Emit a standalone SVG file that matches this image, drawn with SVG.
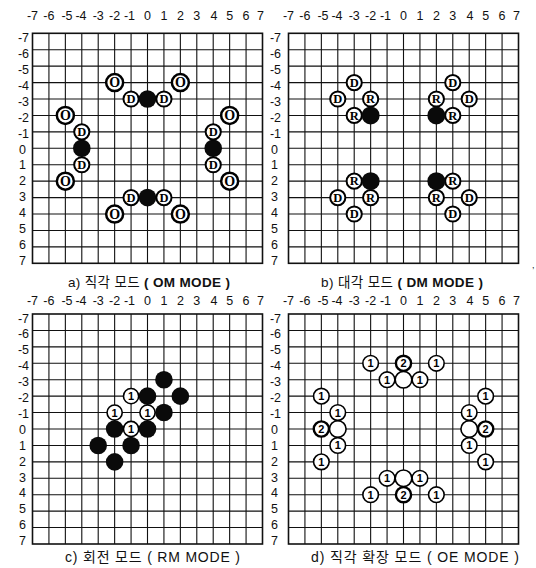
<svg xmlns="http://www.w3.org/2000/svg" xmlns:xlink="http://www.w3.org/1999/xlink" width="536" height="568" viewBox="0 0 536 568">
<style>
.bg{fill:#fff}
.gl{fill:none;stroke:#111;stroke-width:1.1}
.gb{fill:none;stroke:#111;stroke-width:1.6}
.lbl{font-family:"Liberation Sans",Arial,sans-serif;font-size:12.5px;fill:#111}
.cl{text-anchor:middle}
.rl{text-anchor:end}
.cap{font-family:"Liberation Sans","Noto Sans CJK KR",sans-serif;font-size:13.5px;fill:#111;text-anchor:middle}
.cap2{font-size:14px}
.b{font-weight:bold}
.bk{fill:#0a0a0a}
.w{fill:#fff;stroke:#000}
.so{stroke-width:2.5}
.sd{stroke-width:2}
.sn{stroke-width:1.6}
.s2{stroke-width:2.4}
.L{font-family:"Liberation Serif","Times New Roman",serif;font-weight:bold;font-size:12.5px;text-anchor:middle;fill:#000}
.LO{font-size:14px}
.N{font-family:"Liberation Sans",Arial,sans-serif;font-weight:bold;font-size:11px;text-anchor:middle;fill:#000}
</style>
<defs>
<g id="grid">
<rect class="bg" x="0" y="0" width="230" height="230"/>
<path class="gl" d="M16.43 0V230M32.86 0V230M49.29 0V230M65.71 0V230M82.14 0V230M98.57 0V230M115 0V230M131.43 0V230M147.86 0V230M164.29 0V230M180.71 0V230M197.14 0V230M213.57 0V230M0 16.43H230M0 32.86H230M0 49.29H230M0 65.71H230M0 82.14H230M0 98.57H230M0 115H230M0 131.43H230M0 147.86H230M0 164.29H230M0 180.71H230M0 197.14H230M0 213.57H230"/>
<rect class="gb" x="0" y="0" width="230" height="230"/>
</g>
<g id="collabels" class="lbl cl">
<text x="0">-7</text><text x="16.43">-6</text><text x="34.5">-5</text><text x="48.5">-4</text><text x="65.71">-3</text><text x="82.14">-2</text><text x="97">-1</text><text x="115">0</text><text x="131.43">1</text><text x="147.86">2</text><text x="164.29">3</text><text x="181.5">4</text><text x="197.14">5</text><text x="213.57">6</text><text x="228">7</text>
</g>
<g id="rowlabels" class="lbl rl">
<text y="0">-7</text><text y="15.9">-6</text><text y="31.8">-5</text><text y="47.7">-4</text><text y="63.6">-3</text><text y="79.5">-2</text><text y="95.4">-1</text><text y="111.3" x="-3">0</text><text y="127.2" x="-3">1</text><text y="143.1" x="-3">2</text><text y="159" x="-3">3</text><text y="174.9" x="-3">4</text><text y="190.8" x="-3">5</text><text y="206.7" x="-3">6</text><text y="222.6" x="-3">7</text>
</g>
</defs>

<g id="panel-a">
<use xlink:href="#grid" x="32.5" y="33.3"/>
<use xlink:href="#collabels" x="32.5" y="19.5"/>
<use xlink:href="#rowlabels" x="29" y="42.3"/>
<g id="a-stones" transform="translate(147.5 148.3)">
<circle class="bk" cx="0" cy="-49.29" r="8.8"/>
<circle class="bk" cx="-65.72" cy="0" r="8.8"/>
<circle class="bk" cx="65.72" cy="0" r="8.8"/>
<circle class="bk" cx="0" cy="49.29" r="8.8"/>
<g transform="translate(-16.43 -49.29)"><circle class="w sd" r="7.6"/><text class="L" y="4.3">D</text></g>
<g transform="translate(16.43 -49.29)"><circle class="w sd" r="7.6"/><text class="L" y="4.3">D</text></g>
<g transform="translate(-65.72 -16.43)"><circle class="w sd" r="7.6"/><text class="L" y="4.3">D</text></g>
<g transform="translate(-65.72 16.43)"><circle class="w sd" r="7.6"/><text class="L" y="4.3">D</text></g>
<g transform="translate(65.72 -16.43)"><circle class="w sd" r="7.6"/><text class="L" y="4.3">D</text></g>
<g transform="translate(65.72 16.43)"><circle class="w sd" r="7.6"/><text class="L" y="4.3">D</text></g>
<g transform="translate(-16.43 49.29)"><circle class="w sd" r="7.6"/><text class="L" y="4.3">D</text></g>
<g transform="translate(16.43 49.29)"><circle class="w sd" r="7.6"/><text class="L" y="4.3">D</text></g>
<g transform="translate(-32.86 -65.72)"><circle class="w so" r="8.5"/><text class="L LO" y="4.9">O</text></g>
<g transform="translate(32.86 -65.72)"><circle class="w so" r="8.5"/><text class="L LO" y="4.9">O</text></g>
<g transform="translate(-82.15 -32.86)"><circle class="w so" r="8.5"/><text class="L LO" y="4.9">O</text></g>
<g transform="translate(-82.15 32.86)"><circle class="w so" r="8.5"/><text class="L LO" y="4.9">O</text></g>
<g transform="translate(82.15 -32.86)"><circle class="w so" r="8.5"/><text class="L LO" y="4.9">O</text></g>
<g transform="translate(82.15 32.86)"><circle class="w so" r="8.5"/><text class="L LO" y="4.9">O</text></g>
<g transform="translate(-32.86 65.72)"><circle class="w so" r="8.5"/><text class="L LO" y="4.9">O</text></g>
<g transform="translate(32.86 65.72)"><circle class="w so" r="8.5"/><text class="L LO" y="4.9">O</text></g>
</g>
<text class="cap" x="149" y="286.5" textLength="162">a) 직각 모드 <tspan class="b">( OM MODE )</tspan></text>
</g>

<g id="panel-b">
<use xlink:href="#grid" x="288.5" y="33.3"/>
<use xlink:href="#collabels" x="288.5" y="19.5"/>
<use xlink:href="#rowlabels" x="281" y="42.3"/>
<g id="b-stones" transform="translate(403.5 148.3)">
<g transform="translate(-49.29 -32.86)"><circle class="w sd" r="7.6"/><text class="L" y="4.3">R</text></g>
<g transform="translate(-32.86 -49.29)"><circle class="w sd" r="7.6"/><text class="L" y="4.3">R</text></g>
<g transform="translate(32.86 -49.29)"><circle class="w sd" r="7.6"/><text class="L" y="4.3">R</text></g>
<g transform="translate(49.29 -32.86)"><circle class="w sd" r="7.6"/><text class="L" y="4.3">R</text></g>
<g transform="translate(-49.29 32.86)"><circle class="w sd" r="7.6"/><text class="L" y="4.3">R</text></g>
<g transform="translate(-32.86 49.29)"><circle class="w sd" r="7.6"/><text class="L" y="4.3">R</text></g>
<g transform="translate(49.29 32.86)"><circle class="w sd" r="7.6"/><text class="L" y="4.3">R</text></g>
<g transform="translate(32.86 49.29)"><circle class="w sd" r="7.6"/><text class="L" y="4.3">R</text></g>
<g transform="translate(-65.72 -49.29)"><circle class="w sd" r="7.6"/><text class="L" y="4.3">D</text></g>
<g transform="translate(-49.29 -65.72)"><circle class="w sd" r="7.6"/><text class="L" y="4.3">D</text></g>
<g transform="translate(49.29 -65.72)"><circle class="w sd" r="7.6"/><text class="L" y="4.3">D</text></g>
<g transform="translate(65.72 -49.29)"><circle class="w sd" r="7.6"/><text class="L" y="4.3">D</text></g>
<g transform="translate(-65.72 49.29)"><circle class="w sd" r="7.6"/><text class="L" y="4.3">D</text></g>
<g transform="translate(-49.29 65.72)"><circle class="w sd" r="7.6"/><text class="L" y="4.3">D</text></g>
<g transform="translate(65.72 49.29)"><circle class="w sd" r="7.6"/><text class="L" y="4.3">D</text></g>
<g transform="translate(49.29 65.72)"><circle class="w sd" r="7.6"/><text class="L" y="4.3">D</text></g>
<circle class="bk" cx="-32.86" cy="-32.86" r="9"/>
<circle class="bk" cx="32.86" cy="-32.86" r="9"/>
<circle class="bk" cx="-32.86" cy="32.86" r="9"/>
<circle class="bk" cx="32.86" cy="32.86" r="9"/>
</g>
<text class="cap" x="402" y="286.5" textLength="162">b) 대각 모드 <tspan class="b">( DM MODE )</tspan></text>
<text class="lbl" x="532" y="268" style="font-size:9px">,</text>
</g>

<g id="panel-c">
<use xlink:href="#grid" x="32.5" y="314"/>
<use xlink:href="#collabels" x="32.5" y="304.5"/>
<use xlink:href="#rowlabels" x="29" y="322.5"/>
<g id="c-stones" transform="translate(147.5 429)">
<circle class="bk" cx="16.43" cy="-49.29" r="8.8"/>
<circle class="bk" cx="0" cy="-32.86" r="8.8"/>
<circle class="bk" cx="32.86" cy="-32.86" r="8.8"/>
<circle class="bk" cx="16.43" cy="-16.43" r="8.8"/>
<circle class="bk" cx="-32.86" cy="0" r="8.8"/>
<circle class="bk" cx="0" cy="0" r="8.8"/>
<circle class="bk" cx="-49.29" cy="16.43" r="8.8"/>
<circle class="bk" cx="-16.43" cy="16.43" r="8.8"/>
<circle class="bk" cx="-32.86" cy="32.86" r="8.8"/>
<g transform="translate(-16.43 -32.86)"><circle class="w sn" r="7.6"/><text class="N" y="4">1</text></g>
<g transform="translate(-32.86 -16.43)"><circle class="w sn" r="7.6"/><text class="N" y="4">1</text></g>
<g transform="translate(0 -16.43)"><circle class="w sn" r="7.6"/><text class="N" y="4">1</text></g>
<g transform="translate(-16.43 0)"><circle class="w sn" r="7.6"/><text class="N" y="4">1</text></g>
</g>
<text class="cap cap2" x="152.5" y="562" textLength="175">c) 회전 모드 ( RM MODE )</text>
</g>

<g id="panel-d">
<use xlink:href="#grid" x="288.5" y="314"/>
<use xlink:href="#collabels" x="288.5" y="304.5"/>
<use xlink:href="#rowlabels" x="281" y="322.5"/>
<g id="d-stones" transform="translate(403.5 429)">
<g transform="translate(0 -49.29)"><circle class="w sn" r="8.3"/></g>
<g transform="translate(-65.72 0)"><circle class="w sn" r="8.3"/></g>
<g transform="translate(65.72 0)"><circle class="w sn" r="8.3"/></g>
<g transform="translate(0 49.29)"><circle class="w sn" r="8.3"/></g>
<g transform="translate(-32.86 -65.72)"><circle class="w sn" r="7.8"/><text class="N" y="4">1</text></g>
<g transform="translate(32.86 -65.72)"><circle class="w sn" r="7.8"/><text class="N" y="4">1</text></g>
<g transform="translate(-16.43 -49.29)"><circle class="w sn" r="7.8"/><text class="N" y="4">1</text></g>
<g transform="translate(16.43 -49.29)"><circle class="w sn" r="7.8"/><text class="N" y="4">1</text></g>
<g transform="translate(-82.15 -32.86)"><circle class="w sn" r="7.8"/><text class="N" y="4">1</text></g>
<g transform="translate(-65.72 -16.43)"><circle class="w sn" r="7.8"/><text class="N" y="4">1</text></g>
<g transform="translate(82.15 -32.86)"><circle class="w sn" r="7.8"/><text class="N" y="4">1</text></g>
<g transform="translate(65.72 -16.43)"><circle class="w sn" r="7.8"/><text class="N" y="4">1</text></g>
<g transform="translate(-65.72 16.43)"><circle class="w sn" r="7.8"/><text class="N" y="4">1</text></g>
<g transform="translate(-82.15 32.86)"><circle class="w sn" r="7.8"/><text class="N" y="4">1</text></g>
<g transform="translate(65.72 16.43)"><circle class="w sn" r="7.8"/><text class="N" y="4">1</text></g>
<g transform="translate(82.15 32.86)"><circle class="w sn" r="7.8"/><text class="N" y="4">1</text></g>
<g transform="translate(-16.43 49.29)"><circle class="w sn" r="7.8"/><text class="N" y="4">1</text></g>
<g transform="translate(16.43 49.29)"><circle class="w sn" r="7.8"/><text class="N" y="4">1</text></g>
<g transform="translate(-32.86 65.72)"><circle class="w sn" r="7.8"/><text class="N" y="4">1</text></g>
<g transform="translate(32.86 65.72)"><circle class="w sn" r="7.8"/><text class="N" y="4">1</text></g>
<g transform="translate(0 -65.72)"><circle class="w s2" r="7.6"/><text class="N" y="4">2</text></g>
<g transform="translate(-82.15 0)"><circle class="w s2" r="7.6"/><text class="N" y="4">2</text></g>
<g transform="translate(82.15 0)"><circle class="w s2" r="7.6"/><text class="N" y="4">2</text></g>
<g transform="translate(0 65.72)"><circle class="w s2" r="7.6"/><text class="N" y="4">2</text></g>
</g>
<text class="cap cap2" x="415" y="562" textLength="208">d) 직각 확장 모드 ( OE MODE )</text>
</g>
</svg>
